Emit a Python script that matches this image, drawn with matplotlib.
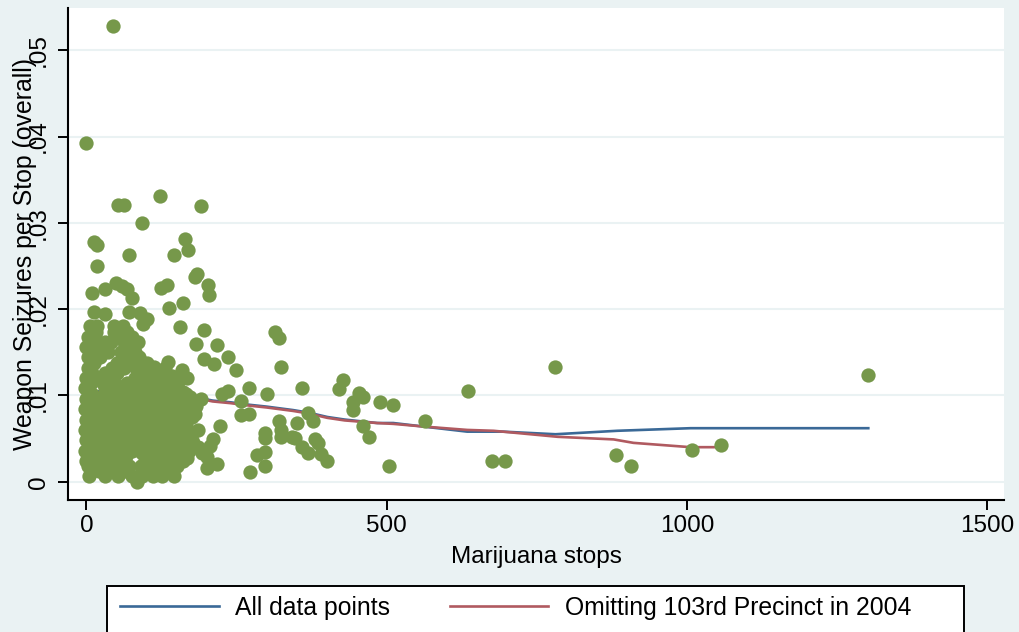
import numpy as np
import matplotlib
matplotlib.use("Agg")
import matplotlib.pyplot as plt
from matplotlib.lines import Line2D
from matplotlib.patches import Rectangle

plt.rcParams['font.family'] = ['Liberation Sans', 'DejaVu Sans']

# dense cluster of precinct-years (marijuana stops, weapon seizures per stop)
cluster_stops = [
    5, 30, 52, 75, 92, 110, 125, 145,
    20, 40, 62, 100, 117, 133,
    2, 12, 28, 50, 70, 90, 108, 125, 150,
    0, 18, 38, 58, 97, 115, 140, 160,
    5, 25, 45, 65, 105, 130, 150,
    -2, 15, 35, 55, 75, 95, 120, 145,
    8, 28, 48, 68, 88, 110, 130, 160,
    0, 20, 40, 60, 80, 100, 140, 175,
    10, 30, 50, 70, 90, 145, 155,
    -3, 18, 38, 80, 98, 125, 165,
    8, 28, 48, 68, 88, 110, 148,
    0, 20, 40, 60, 80, 100, 135, 160,
    10, 30, 50, 70, 90, 128, 150, 180,
    -2, 18, 38, 58, 78, 105, 140, 170,
    8, 28, 48, 68, 88, 125, 155,
    0, 20, 40, 60, 80, 110, 145,
    10, 30, 50, 70, 95, 130, 165,
    -3, 38, 58, 80, 115, 150,
    8, 28, 48, 68, 90, 125,
    0, 20, 40, 80, 105, 140,
    10, 30, 50, 95, 120,
    2, 42, 62, 82, 110, 130,
    12, 52, 72, 100,
    3, 23, 65, 88,
    10, 58, 80,
    0, 25, 70,
    12, 40, 62, 85,
    2, 52, 75,
    15, 45, 68,
    6, 17, 45, 61,
]
cluster_rate = (
    [.0007] * 8 + [.0012] * 6 + [.0018] * 9 + [.0024] * 8 + [.0030] * 7
    + [.0036] * 8 + [.0042] * 8 + [.0048] * 8 + [.0054] * 7 + [.0060] * 7
    + [.0066] * 7 + [.0072] * 8 + [.0078] * 8 + [.0084] * 8 + [.0090] * 7
    + [.0096] * 7 + [.0102] * 7 + [.0108] * 6 + [.0114] * 6 + [.0120] * 6
    + [.0126] * 5 + [.0132] * 6 + [.0138] * 4 + [.0144] * 4 + [.0150] * 3
    + [.0156] * 3 + [.0162] * 4 + [.0168] * 3 + [.0174] * 3 + [.0181] * 4
)

# extra points packed inside the cluster
inner_stops = [112, 140, 100, 128, 92, 118, 140, 102, 140, 108, 132, 108,
               128, 112, 140, 100, 140, 128, 112, 102, 138, 112, 90, 120,
               40, 60, 30, 50, 35, 48, 30]
inner_rate = [.0010, .0012, .0022, .0021, .0033, .0034, .0036, .0045, .0050,
              .0055, .0058, .0066, .0070, .0078, .0080, .0088, .0090, .0096,
              .0102, .0110, .0108, .0120, .0124, .0128,
              .0030, .0054, .0108, .0138, .0150, .0168, .0162]

# looser fringe on the right side of the cluster
fringe_stops = [102, 112, 118, 132, 142, 152, 161, 172, 182, 175, 165, 185,
                178, 170, 186, 160, 140, 118, 98, 112, 138, 128, 118, 138,
                152, 162, 120, 150, 135]
fringe_rate = [.0127, .0133, .0118, .0112, .0122, .0116, .0104, .0098, .0088,
               .0075, .0066, .0060, .0045, .0036, .0040, .0030, .0018, .0024,
               .0044, .0061, .0066, .0084, .0094, .0100, .0088, .0080, .0048,
               .0042, .0030]

# scattered precinct-years outside the cluster
other_stops = [
    44, 0, 123, 53, 63, 191, 93, 13, 18, 164, 169, 71, 146, 17, 184, 181,
    9, 31, 49, 59, 67, 75, 124, 134, 203, 204, 13, 30, 70, 89, 100, 94,
    138, 160, 155, 195, 182, 217, 195, 213, 235, 249, 136, 159, 167, 270,
    300, 225, 236, 257, 257, 271, 190, 223, 211, 206, 192, 200, 218, 200,
    167, 273, 284, 297, 84,
    314, 320, 324, 359, 421, 428, 453, 461, 444, 444, 489, 511, 564, 636,
    781, 320, 351, 369, 377, 298, 298, 324, 324, 342, 348, 359, 369, 381,
    386, 391, 401, 461, 471, 298, 503, 676, 697, 881, 906, 1009, 1057, 1302,
]
other_rate = [
    .0528, .0392, .0331, .0321, .0321, .0319, .0300, .0278, .0274, .0281,
    .0269, .0263, .0263, .0250, .0241, .0237,
    .0219, .0223, .0230, .0227, .0223, .0213, .0225, .0228, .0228, .0216,
    .0197, .0194, .0197, .0195, .0189, .0183,
    .0201, .0207, .0179, .0176, .0160, .0158, .0142, .0136, .0145, .0129,
    .0139, .0129, .0120, .0108,
    .0102, .0102, .0105, .0093, .0077, .0079, .0096, .0064, .0050, .0041,
    .0033, .0029, .0021, .0016,
    .0027, .0011, .0031, .0034, .0000,
    .0173, .0167, .0133, .0109, .0107, .0118, .0103, .0098, .0092, .0083,
    .0092, .0089, .0070, .0105,
    .0133, .0070, .0068, .0080, .0070, .0057, .0051, .0060, .0052, .0052,
    .0051, .0040, .0033, .0050,
    .0045, .0032, .0024, .0065, .0052, .0018, .0018, .0024, .0024, .0031,
    .0018, .0037, .0043, .0124,
]

# fitted curves
fit_all_x = [0, 60, 101, 110, 123, 150, 189, 210, 240, 273, 300, 344, 370,
             401, 430, 484, 511, 560, 634, 694, 781, 884, 1006, 1302]
fit_all_y = [.0105, .0104, .0103, .0101, .0099, .0098, .0097, .0094, .0092,
             .0089, .0087, .0083, .0080, .0075, .0072, .0068, .0068, .0064,
             .0058, .0058, .0055, .0059, .0062, .0062]
fit_omit_x = [0, 60, 101, 123, 150, 189, 210, 240, 273, 300, 344, 370, 401,
              430, 484, 511, 560, 634, 678, 785, 878, 911, 1006, 1056]
fit_omit_y = [.0104, .0103, .0102, .0099, .0097, .0096, .0093, .0091, .0088,
              .0086, .0082, .0079, .0074, .0071, .0068, .0067, .0064, .0060,
              .0059, .0052, .0049, .0045, .0040, .0040]

xticks = [0, 500, 1000, 1500]
yticks = [0, .01, .02, .03, .04, .05]
ytick_labels = ['0', '.01', '.02', '.03', '.04', '.05']
legend_labels = ['All data points', 'Omitting 103rd Precinct in 2004']

bg = '#EAF2F3'
green = '#76984A'
blue = '#3A6997'
red = '#B05A60'
fs = 17.5

fig = plt.figure(figsize=(10.19, 6.32), dpi=100, facecolor=bg)
ax = fig.add_axes([68 / 1019, 1 - 500 / 632, 936 / 1019, 492 / 632])
ax.set_facecolor('white')

for yv in yticks:
    ax.axhline(yv, color=bg, lw=1.5, zorder=0)

ax.plot(fit_all_x, fit_all_y, color=blue, lw=1.9, zorder=2)
ax.plot(fit_omit_x, fit_omit_y, color=red, lw=1.9, zorder=2)
ax.scatter(cluster_stops + inner_stops + fringe_stops + other_stops,
           cluster_rate + inner_rate + fringe_rate + other_rate, s=106,
           color=green, linewidths=0, zorder=3)

ax.set_xlim(-30.8, 1528)
ax.set_ylim(-0.00212, 0.05489)
ax.set_xticks(xticks)
ax.set_xticklabels([str(v) for v in xticks], fontsize=fs)
ax.set_yticks(yticks)
ax.set_yticklabels(ytick_labels, fontsize=fs, rotation=90, va='center')
ax.tick_params(axis='both', direction='out', length=7, width=1.4, color='black')
ax.tick_params(axis='x', pad=4)
ax.tick_params(axis='y', pad=6)

for side in ['top', 'right']:
    ax.spines[side].set_visible(False)
for side in ['left', 'bottom']:
    ax.spines[side].set_linewidth(1.5)
    ax.spines[side].set_color('black')

ax.set_xlabel('Marijuana stops', fontsize=fs, labelpad=6)
ax.set_ylabel('Weapon Seizures per Stop (overall)', fontsize=17.9)
ax.yaxis.set_label_coords(-0.033, 0.50)

# legend (box runs off the bottom edge as in the source)
fig.patches.append(Rectangle((107 / 1019, -0.05), 857 / 1019, 0.05 + 46 / 632,
                             transform=fig.transFigure, facecolor='white',
                             edgecolor='black', lw=1.4, zorder=1))
handles = [Line2D([], [], color=blue, lw=1.9), Line2D([], [], color=red, lw=1.9)]
fig.legend(handles, legend_labels, loc='center left', ncol=2,
           bbox_to_anchor=(120 / 1019, 1 - 608 / 632), frameon=False,
           fontsize=17.8, handlelength=4.0, handletextpad=0.66,
           columnspacing=2.4, borderpad=0, borderaxespad=0)

fig.savefig('out.png', dpi=100, facecolor=bg)
